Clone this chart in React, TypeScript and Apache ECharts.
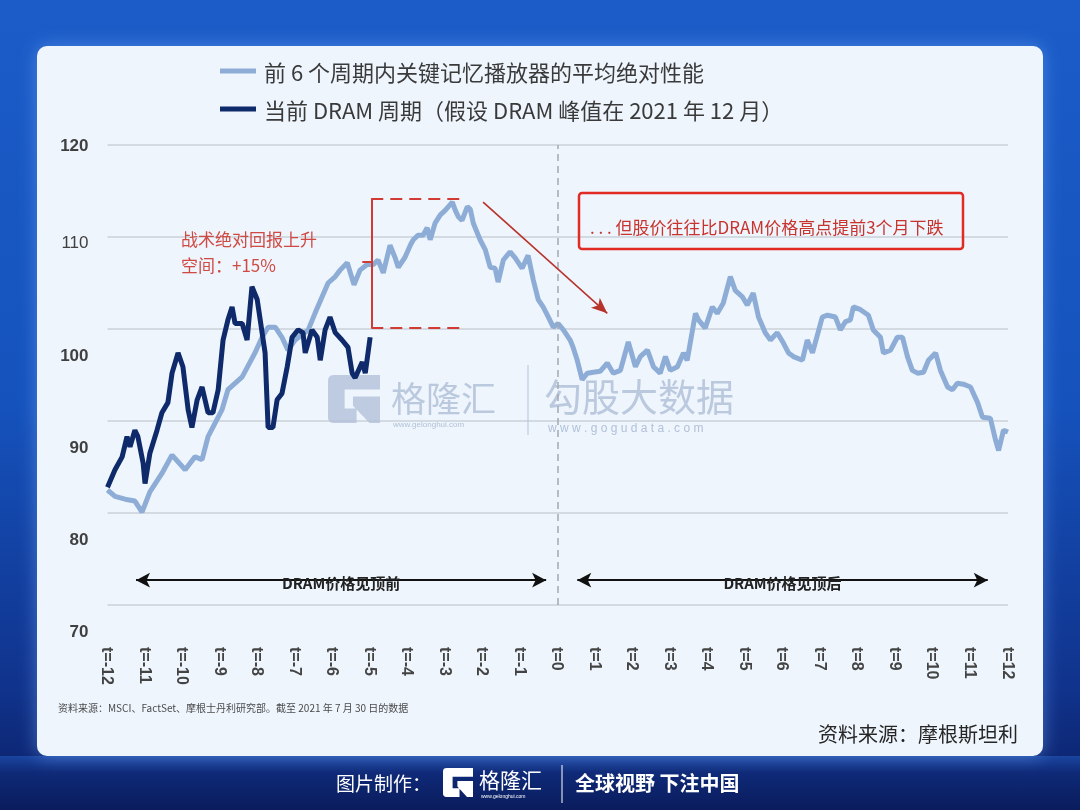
import React, { useEffect, useRef } from 'react';
import * as echarts from 'echarts';

// ---------- data ----------
const xTickLabels = [
  't=-12', 't=-11', 't=-10', 't=-9', 't=-8', 't=-7', 't=-6', 't=-5', 't=-4', 't=-3', 't=-2', 't=-1', 't=0',
  't=1', 't=2', 't=3', 't=4', 't=5', 't=6', 't=7', 't=8', 't=9', 't=10', 't=11', 't=12',
];
const yTicks = [70, 80, 90, 100, 110, 120];

const seriesNames = [
  '前 6 个周期内关键记忆播放器的平均绝对性能',
  '当前 DRAM 周期（假设 DRAM 峰值在 2021 年 12 月）',
];

// [t (months from DRAM price peak), value]
const prevCyclesAvg: [number, number][] = [
  [-12.0, 82.5], [-11.8, 81.8], [-11.53, 81.5], [-11.27, 81.3], [-11.08, 80.1], [-10.87, 82.3], [-10.55, 84.3],
  [-10.28, 86.3], [-9.93, 84.7], [-9.67, 86.1], [-9.48, 85.8], [-9.32, 88.3], [-8.95, 91.2], [-8.79, 93.4],
  [-8.41, 94.8], [-8.07, 97.4], [-7.88, 99.1], [-7.72, 100.2], [-7.53, 100.2], [-7.35, 99.1], [-7.19, 97.7],
  [-7.0, 98.8], [-6.65, 99.9], [-6.47, 101.7], [-6.28, 103.5], [-6.12, 105], [-5.93, 105.7], [-5.8, 106.4],
  [-5.61, 107.2], [-5.43, 104.8], [-5.27, 106.4], [-5.08, 107], [-4.92, 107], [-4.79, 107.5], [-4.65, 106.1],
  [-4.47, 109.1], [-4.33, 107.7], [-4.25, 106.7], [-4.07, 107.8], [-3.93, 109.1], [-3.85, 109.7], [-3.72, 110.2],
  [-3.59, 110.2], [-3.48, 111], [-3.4, 109.7], [-3.27, 111.5], [-3.13, 112.4], [-3.0, 112.9], [-2.81, 113.8],
  [-2.73, 112.9], [-2.65, 112.2], [-2.55, 111.8], [-2.41, 113.3], [-2.33, 113], [-2.25, 111.5], [-2.07, 109.7],
  [-1.93, 108.6], [-1.8, 106.7], [-1.67, 106.6], [-1.59, 105.1], [-1.45, 107.5], [-1.27, 108.4], [-1.13, 107.7],
  [-0.95, 106.6], [-0.79, 108], [-0.65, 105.3], [-0.52, 103.2], [-0.39, 102.4], [-0.25, 101.3], [-0.12, 100.2],
  [0.01, 100.6], [0.15, 99.9], [0.33, 98.8], [0.41, 98], [0.52, 96.6], [0.65, 94.5], [0.79, 95.2], [0.95, 95.3],
  [1.13, 95.4], [1.32, 96.3], [1.48, 95.2], [1.67, 95.5], [1.88, 98.6], [2.07, 95.9], [2.2, 97], [2.39, 97.7],
  [2.55, 95.9], [2.73, 95.2], [2.87, 97], [3.0, 95.5], [3.19, 95.9], [3.35, 97.4], [3.45, 96.6], [3.67, 101.7],
  [3.75, 101], [3.93, 100.1], [4.12, 102.4], [4.25, 101.7], [4.41, 102.8], [4.6, 105.7], [4.73, 104.2],
  [4.92, 103.5], [5.05, 102.6], [5.21, 103.9], [5.35, 101.3], [5.53, 99.6], [5.67, 98.8], [5.85, 99.6],
  [6.01, 98.5], [6.15, 97.4], [6.28, 97], [6.52, 96.6], [6.65, 98.8], [6.79, 97.4], [7.05, 101.3], [7.19, 101.5],
  [7.4, 101.3], [7.53, 99.9], [7.67, 100.8], [7.8, 101], [7.88, 102.4], [8.07, 102.1], [8.28, 101.5],
  [8.41, 99.9], [8.6, 99.1], [8.68, 97.4], [8.87, 97.7], [9.05, 99.1], [9.19, 99.1], [9.32, 97], [9.45, 95.5],
  [9.59, 95.2], [9.75, 95.3], [9.88, 96.6], [10.07, 97.4], [10.2, 95.5], [10.39, 93.7], [10.52, 93.4],
  [10.65, 94.1], [10.81, 94], [11.0, 93.7], [11.19, 92], [11.32, 90.4], [11.53, 90.3], [11.67, 87.9],
  [11.75, 86.8], [11.88, 89], [12.0, 88.8],
];

const currentCycle: [number, number][] = [
  [-12.0, 82.8], [-11.8, 84.7], [-11.61, 86.1], [-11.48, 88.3], [-11.4, 87.2], [-11.27, 89], [-11.19, 88.3],
  [-11.05, 85.4], [-11.0, 83.2], [-10.87, 86.5], [-10.68, 89], [-10.55, 90.9], [-10.39, 92], [-10.28, 95.2],
  [-10.12, 97.4], [-9.99, 95.9], [-9.85, 91.2], [-9.75, 89.3], [-9.61, 92.3], [-9.48, 93.7], [-9.32, 90.9],
  [-9.19, 90.9], [-9.05, 93.4], [-8.92, 98.8], [-8.79, 101], [-8.68, 102.4], [-8.6, 100.6], [-8.41, 100.6],
  [-8.28, 98.8], [-8.15, 104.6], [-8.01, 103.2], [-7.88, 99.6], [-7.8, 97.4], [-7.72, 89.3], [-7.59, 89.3],
  [-7.48, 92.3], [-7.35, 93], [-7.21, 95.9], [-7.08, 99.1], [-6.92, 99.9], [-6.79, 99.6], [-6.73, 97.4],
  [-6.55, 99.9], [-6.41, 99.1], [-6.33, 96.6], [-6.2, 99.9], [-6.07, 101.3], [-5.93, 99.6], [-5.75, 98.8],
  [-5.59, 98], [-5.48, 95.2], [-5.4, 94.7], [-5.21, 96.4], [-5.13, 95.2], [-5.0, 99.1],
];

// annotation anchors (data space)
const bracketT = [-4.97, -2.47];
const bracketV = [100.1, 114.2];
const bracketTickT = -5.21;
const bracketTickV = 107.3;
const redArrowFrom: [number, number] = [-1.99, 113.8];
const redArrowTo: [number, number] = [1.32, 101.7];
const phaseArrowV = 72.7;
const phaseBefore: [number, number] = [-11.24, -0.31];
const phaseAfter: [number, number] = [0.52, 11.46];
const phaseLabels = ['DRAM价格见顶前', 'DRAM价格见顶后'];

// ---------- logo shape ----------
const LOGO_D =
  'M12 0 H100 V30 H32 V70 H55 V100 H12 Q0 100 0 88 V12 Q0 0 12 0 Z M48 45 H100 V100 H80 L48 64 Z';
let logoRegistered = false;
function ensureLogo() {
  if (!logoRegistered) {
    echarts.graphic.registerShape('glhLogo', echarts.graphic.extendPath(LOGO_D, {}) as any);
    logoRegistered = true;
  }
}

const CJK = "'Noto Sans CJK SC', 'Noto Sans', sans-serif";
const LAT = "'Liberation Sans', Arial, sans-serif";

function txt(
  text: string,
  x: number,
  y: number,
  o: { size: number; color: string; weight?: string; align?: string; family?: string; lineHeight?: number; z?: number; opacity?: number }
) {
  return {
    type: 'text',
    x,
    y,
    z: o.z ?? 10,
    silent: true,
    style: {
      text,
      fill: o.color,
      fontSize: o.size,
      fontWeight: o.weight || 'normal',
      fontFamily: o.family || CJK,
      align: o.align || 'left',
      textAlign: o.align || 'left',
      verticalAlign: 'middle',
      textVerticalAlign: 'middle',
      lineHeight: o.lineHeight,
      opacity: o.opacity ?? 1,
    },
  };
}

export default function App() {
  const ref = useRef<HTMLDivElement>(null);

  useEffect(() => {
    if (!ref.current) return;
    ensureLogo();
    const chart = echarts.init(ref.current, undefined, { renderer: 'svg' });

    const red = '#d23a34';
    const wmColor = '#b1c1d8';
    const phaseLabel = (text: string) => ({
      show: true,
      position: 'middle',
      formatter: text,
      color: '#222',
      fontSize: 15,
      fontWeight: 'bold',
      verticalAlign: 'middle',
      distance: 0,
      offset: [0, 2],
    });
    const blackEnd = (coord: [number, number], label?: any) => ({
      coord,
      symbol: 'arrow',
      symbolSize: [11, 14],
      itemStyle: { color: '#111' },
      lineStyle: { color: '#111', width: 2, type: 'solid' },
      ...(label ? { label } : {}),
    });

    const option: any = {
      animation: false,
      textStyle: { fontFamily: CJK },
      legend: {
        data: seriesNames,
        orient: 'vertical',
        left: 215,
        top: 55,
        icon: 'rect',
        itemWidth: 36,
        itemHeight: 5,
        itemGap: 16,
        selectedMode: false,
        textStyle: { fontSize: 22, color: '#3a3a3a', fontFamily: CJK, lineHeight: 22, padding: [0, 0, 0, 3] },
      },
      grid: { left: 107.5, right: 72, top: 145, bottom: 205, containLabel: false },
      xAxis: {
        type: 'value',
        min: -12,
        max: 12,
        interval: 1,
        axisLine: { show: false },
        axisTick: { show: false },
        splitLine: { show: false },
        axisLabel: {
          rotate: -90,
          margin: 42,
          showMinLabel: true,
          showMaxLabel: true,
          fontSize: 16,
          fontWeight: 'bold',
          fontFamily: LAT,
          color: '#444',
          formatter: (v: number) => xTickLabels[Math.round(v) + 12] ?? '',
        },
      },
      yAxis: {
        type: 'value',
        min: yTicks[0],
        max: yTicks[yTicks.length - 1],
        interval: 10,
        axisLine: { show: false },
        axisTick: { show: false },
        splitLine: { lineStyle: { color: '#cbd1d9', width: 1.5 } },
        axisLabel: {
          margin: 19,
          fontFamily: LAT,
          formatter: (v: number) => (v === 120 ? `{a|${v}}` : v === 110 ? `{b|${v}}` : `{c|${v}}`),
          rich: {
            a: { fontSize: 17, fontWeight: 'bold', color: '#404040', fontFamily: LAT },
            b: { fontSize: 17, fontWeight: 'normal', color: '#404040', fontFamily: LAT, padding: [10, 0, 0, 0] },
            c: { fontSize: 17, fontWeight: 'bold', color: '#404040', fontFamily: LAT, padding: [52, 0, 0, 0] },
          },
        },
      },
      series: [
        {
          name: seriesNames[0],
          type: 'line',
          data: prevCyclesAvg,
          symbol: 'none',
          showSymbol: false,
          lineStyle: { color: '#8eadd6', width: 5 },
          itemStyle: { color: '#8eadd6' },
          z: 2,
          markLine: {
            silent: true,
            symbol: ['none', 'none'],
            label: { show: false },
            emphasis: { disabled: true },
            data: [
              { xAxis: 0, lineStyle: { color: '#a3a9b2', type: [7, 5], width: 1.5 } },
              [
                { coord: [bracketT[0], bracketV[1]], lineStyle: { color: red, width: 2, type: 'solid' } },
                { coord: [bracketT[0], bracketV[0]], lineStyle: { color: red, width: 2, type: 'solid' } },
              ],
              [
                { coord: [bracketT[0], bracketV[1]], lineStyle: { color: red, width: 2, type: [12, 7] } },
                { coord: [bracketT[1], bracketV[1]], lineStyle: { color: red, width: 2, type: [12, 7] } },
              ],
              [
                { coord: [bracketT[0], bracketV[0]], lineStyle: { color: red, width: 2, type: [12, 7] } },
                { coord: [bracketT[1], bracketV[0]], lineStyle: { color: red, width: 2, type: [12, 7] } },
              ],
              [
                { coord: [bracketTickT, bracketTickV], lineStyle: { color: red, width: 2, type: 'solid' } },
                { coord: [bracketT[0], bracketTickV], lineStyle: { color: red, width: 2, type: 'solid' } },
              ],
              [
                { coord: redArrowFrom, lineStyle: { color: '#b8332c', width: 1.6, type: 'solid' } },
                {
                  coord: redArrowTo,
                  symbol: 'arrow',
                  symbolSize: [10, 16],
                  itemStyle: { color: '#b8332c' },
                  lineStyle: { color: '#b8332c', width: 1.6, type: 'solid' },
                },
              ],
              [
                blackEnd([phaseBefore[0], phaseArrowV], phaseLabel(phaseLabels[0])),
                blackEnd([phaseBefore[1], phaseArrowV]),
              ],
              [
                blackEnd([phaseAfter[0], phaseArrowV], phaseLabel(phaseLabels[1])),
                blackEnd([phaseAfter[1], phaseArrowV]),
              ],
            ],
          },
        },
        {
          name: seriesNames[1],
          type: 'line',
          data: currentCycle,
          symbol: 'none',
          showSymbol: false,
          lineStyle: { color: '#0e2a6a', width: 5 },
          itemStyle: { color: '#0e2a6a' },
          z: 3,
        },
      ],
      graphic: {
        elements: [
          {
            type: 'rect',
            z: -20,
            silent: true,
            shape: { x: 0, y: 0, width: 1080, height: 810 },
            style: {
              fill: new echarts.graphic.LinearGradient(0, 0, 0, 1, [
                { offset: 0, color: '#1b5cc8' },
                { offset: 0.5, color: '#1552bc' },
                { offset: 0.85, color: '#10338c' },
                { offset: 1, color: '#0b1e63' },
              ]),
            },
          },
          {
            type: 'rect',
            z: -19,
            silent: true,
            shape: { x: 0, y: 756, width: 1080, height: 54 },
            style: {
              fill: new echarts.graphic.LinearGradient(0, 0, 0, 1, [
                { offset: 0, color: '#1a45a0' },
                { offset: 0.3, color: '#0f2a78' },
                { offset: 1, color: '#0a1c5c' },
              ]),
            },
          },
          {
            type: 'rect',
            z: -18,
            silent: true,
            shape: { x: 37, y: 46, width: 1006, height: 710, r: 10 },
            style: { fill: '#eef5fd', shadowBlur: 18, shadowColor: 'rgba(110,165,245,0.55)' },
          },
          // watermark
          {
            type: 'glhLogo',
            z: 1,
            silent: true,
            x: 328,
            y: 375,
            scaleX: 0.52,
            scaleY: 0.48,
            style: { fill: wmColor, opacity: 0.8 },
          },
          txt('格隆汇', 391, 396, { size: 35, color: wmColor, z: 1, opacity: 0.85 }),
          txt('www.gelonghui.com', 393, 424, { size: 8, color: wmColor, family: LAT, z: 1 }),
          {
            type: 'line',
            z: 1,
            silent: true,
            shape: { x1: 528, y1: 365, x2: 528, y2: 435 },
            style: { stroke: wmColor, lineWidth: 1.2, opacity: 0.8 },
          },
          txt('勾股大数据', 544, 394, { size: 38, color: wmColor, z: 1, opacity: 0.85 }),
          txt('w w w . g o g u d a t a . c o m', 548, 428, { size: 12, color: wmColor, family: LAT, z: 1 }),
          // annotations
          txt('战术绝对回报上升', 181, 238, { size: 17, color: '#d04a44' }),
          txt('空间：+15%', 181, 264, { size: 17, color: '#d04a44' }),
          {
            type: 'rect',
            z: 10,
            silent: true,
            shape: { x: 579, y: 193, width: 384, height: 56, r: 3 },
            style: { fill: 'none', stroke: '#e12b25', lineWidth: 2.5 },
          },
          txt('. . . 但股价往往比DRAM价格高点提前3个月下跌', 590, 226, { size: 17, color: '#c8342d' }),
          // footnotes
          txt('资料来源：MSCI、FactSet、摩根士丹利研究部。截至 2021 年 7 月 30 日的数据', 58, 707, {
            size: 10,
            color: '#4a4a4a',
          }),
          txt('资料来源：摩根斯坦利', 1018, 733, { size: 20, color: '#262626', align: 'right' }),
          // footer band
          txt('图片制作：', 336, 782, { size: 19, color: '#ffffff' }),
          {
            type: 'glhLogo',
            z: 10,
            silent: true,
            x: 443,
            y: 768,
            scaleX: 0.3,
            scaleY: 0.29,
            style: { fill: '#ffffff' },
          },
          txt('格隆汇', 479, 779, { size: 21, color: '#ffffff' }),
          txt('www.gelonghui.com', 481, 796, { size: 5, color: '#ffffff', family: LAT }),
          {
            type: 'line',
            z: 10,
            silent: true,
            shape: { x1: 562, y1: 765, x2: 562, y2: 803 },
            style: { stroke: '#ffffff', lineWidth: 1 },
          },
          txt('全球视野 下注中国', 575, 782, { size: 20, color: '#ffffff', weight: 'bold' }),
        ],
      },
    };

    chart.setOption(option);
    return () => chart.dispose();
  }, []);

  return <div ref={ref} style={{ position: 'fixed', left: 0, top: 0, width: 1080, height: 810 }} />;
}
